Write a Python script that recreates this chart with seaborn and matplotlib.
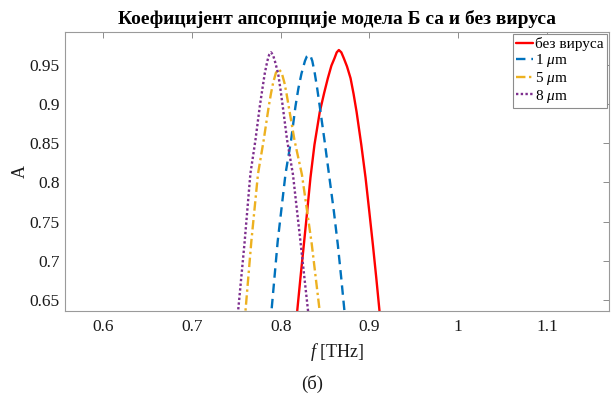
import numpy as np
import pandas as pd
import matplotlib
matplotlib.use("Agg")
import matplotlib.pyplot as plt
import seaborn as sns

sns.set_theme(style="white")
plt.rcParams['font.family'] = ['Liberation Serif', 'DejaVu Serif']
plt.rcParams['mathtext.fontset'] = 'custom'
plt.rcParams['mathtext.rm'] = 'Liberation Serif'
plt.rcParams['mathtext.it'] = 'Liberation Serif:italic'
plt.rcParams['text.color'] = 'black'

# values
f_none = [0.8150, 0.8186, 0.8223, 0.8261, 0.8299, 0.8336, 0.8381, 0.8441, 0.8490, 0.8532, 0.8572,
          0.8607, 0.8632, 0.8656, 0.8684, 0.8712, 0.8748, 0.8788, 0.8822, 0.8856, 0.8909, 0.8957,
          0.8999, 0.9040, 0.9078, 0.9115, 0.9135]
A_none = [0.618, 0.635, 0.678, 0.720, 0.763, 0.806, 0.848, 0.890, 0.914, 0.933, 0.949,
          0.9585, 0.966, 0.969, 0.966, 0.9585, 0.948, 0.933, 0.913, 0.890, 0.848, 0.806,
          0.763, 0.720, 0.678, 0.635, 0.615]

f_1um = [0.7880, 0.7896, 0.7967, 0.8055, 0.8118, 0.8167, 0.8200, 0.8235, 0.8274, 0.8296, 0.8317,
         0.8338, 0.8357, 0.8385, 0.8412, 0.8441, 0.8494, 0.8543, 0.8600, 0.8645, 0.8683, 0.8720, 0.8730]
A_1um = [0.620, 0.635, 0.725, 0.811, 0.854, 0.897, 0.920, 0.939, 0.955, 0.961, 0.963,
         0.961, 0.955, 0.939, 0.920, 0.897, 0.854, 0.812, 0.763, 0.720, 0.678, 0.635, 0.620]

f_5um = [0.7590, 0.7603, 0.7670, 0.7745, 0.7809, 0.7866, 0.7892, 0.7915, 0.7947, 0.7979,
         0.8012, 0.8043, 0.8067, 0.8091, 0.8156, 0.8240, 0.8350, 0.8441, 0.8455]
A_5um = [0.620, 0.635, 0.725, 0.811, 0.854, 0.897, 0.914, 0.927, 0.940, 0.9445,
         0.940, 0.927, 0.913, 0.897, 0.854, 0.810, 0.722, 0.635, 0.620]

f_8um = [0.7510, 0.7520, 0.7595, 0.7659, 0.7716, 0.7765, 0.7795, 0.7821, 0.7850, 0.7871, 0.7892,
         0.7913, 0.7935, 0.7972, 0.7998, 0.8024, 0.8073, 0.8139, 0.8223, 0.8310, 0.8320]
A_8um = [0.620, 0.635, 0.725, 0.811, 0.854, 0.897, 0.920, 0.939, 0.955, 0.963, 0.966,
         0.963, 0.955, 0.939, 0.919, 0.897, 0.854, 0.810, 0.725, 0.635, 0.620]

labels = ['без вируса', r'1 $\mu$m', r'5 $\mu$m', r'8 $\mu$m']
x_ticks = [0.6, 0.7, 0.8, 0.9, 1.0, 1.1]
x_ticklabels = ['0.6', '0.7', '0.8', '0.9', '1', '1.1']
y_ticks = [0.65, 0.7, 0.75, 0.8, 0.85, 0.9, 0.95]
y_ticklabels = ['0.65', '0.7', '0.75', '0.8', '0.85', '0.9', '0.95']

series = [(f_none, A_none), (f_1um, A_1um), (f_5um, A_5um), (f_8um, A_8um)]
colors = ['#ff0000', '#0072bd', '#edb120', '#7e2f8e']
styles = ['-', (0, (4, 2.5)), (0, (4, 1.5, 1, 1.5)), (0, (1, 1))]

fig = plt.figure(figsize=(6.16, 4.03), dpi=100)
ax = fig.add_axes([0.1055, 0.2283, 0.8831, 0.6923])

for (f, A), lab, c, ls in zip(series, labels, colors, styles):
    sns.lineplot(x=f, y=A, ax=ax, color=c, linestyle=ls, linewidth=1.7, label=lab,
                 estimator=None, sort=False)

ax.set_xlim(0.557, 1.170)
ax.set_ylim(0.636, 0.992)
ax.set_xticks(x_ticks)
ax.set_xticklabels(x_ticklabels)
ax.set_yticks(y_ticks)
ax.set_yticklabels(y_ticklabels)
ax.tick_params(direction='in', length=4, width=0.7, color='#8c8c8c', labelsize=12.5,
               labelcolor='#1a1a1a', top=True, right=True, pad=4)
ax.tick_params(axis='x', pad=6)
for sp in ax.spines.values():
    sp.set_color('#9a9a9a')
    sp.set_linewidth(0.8)

ax.set_title('Коефицијент апсорпције модела Б са и без вируса', fontsize=14,
             fontweight='bold', pad=6)
ax.set_xlabel(r'$f$ [THz]', fontsize=13, labelpad=4, color='#1a1a1a')
ax.set_ylabel('A', fontsize=13, labelpad=0, color='#1a1a1a')

leg = ax.legend(loc='upper right', fontsize=11, handlelength=1.1, handletextpad=0.15,
                borderpad=0.2, labelspacing=0.05, borderaxespad=0.15, fancybox=False,
                framealpha=1, edgecolor='#8c8c8c')
leg.get_frame().set_linewidth(0.8)

fig.text(0.507, 0.025, '(б)', fontsize=13.5, ha='center', va='bottom', color='#1a1a1a')

fig.savefig('out.png', dpi=100)
